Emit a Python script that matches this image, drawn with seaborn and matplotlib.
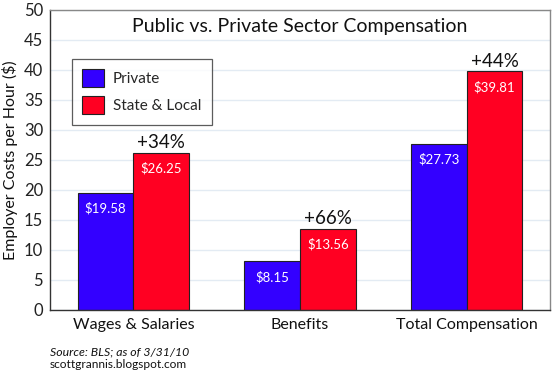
import pandas as pd
import seaborn as sns
import matplotlib.pyplot as plt
from matplotlib.patches import Patch


categories = ["Wages & Salaries", "Benefits", "Total Compensation"]
private = [19.58, 8.15, 27.73]
state_local = [26.25, 13.56, 39.81]
pct_diff = ["+34%", "+66%", "+44%"]
sectors = ["Private", "State & Local"]

df = pd.DataFrame({
    "category": categories * 2,
    "sector": [sectors[0]] * 3 + [sectors[1]] * 3,
    "cost": private + state_local,
})

sns.set_style("white")
plt.rcParams['font.family'] = ['Lato', 'DejaVu Sans']

palette = {"Private": "#3300ff", "State & Local": "#ff0022"}

fig = plt.figure(figsize=(5.52, 3.79), dpi=100)
ax = fig.add_axes([50 / 552, 1 - 310 / 379, 500 / 552, 300 / 379])

sns.barplot(data=df, x="category", y="cost", hue="sector", palette=palette,
            width=0.667, gap=0, saturation=1, edgecolor="#222222", linewidth=0.8,
            ax=ax, legend=False)

ax.set_xlim(-0.5, 2.5)
ax.set_ylim(0, 50)
ax.set_yticks(range(0, 51, 5))
ax.set_yticks(range(0, 51, 1), minor=True)
ax.set_xticks([0.5, 1.5], minor=True)
ax.grid(axis="y", which="major", color="#e3ebf3", linewidth=1)
ax.set_axisbelow(True)

ax.tick_params(axis="y", which="major", direction="out", length=4, width=0.8,
               labelsize=12, pad=1, colors="#222222")
ax.tick_params(axis="y", which="minor", direction="in", length=2.5, width=0.6,
               color="#666666")
ax.tick_params(axis="x", which="major", length=0, labelsize=11.5, pad=6,
               colors="#111111")
ax.tick_params(axis="x", which="minor", direction="out", length=3, width=0.8,
               color="#555555")

for side in ["left", "bottom"]:
    ax.spines[side].set_color("#333333")
    ax.spines[side].set_linewidth(1.0)
for side in ["top", "right"]:
    ax.spines[side].set_color("#888888")
    ax.spines[side].set_linewidth(1.0)

ax.set_xlabel("")
ax.set_ylabel("Employer Costs per Hour ($)", fontsize=11.5, labelpad=4,
              color="#111111")

ax.set_title("Public vs. Private Sector Compensation", fontsize=14,
             y=0.9, color="#111111")

# dollar labels inside the bars, percent gaps above the red bars
for cont, vals in zip(ax.containers, [private, state_local]):
    ax.bar_label(cont, labels=[f"${v:.2f}" for v in vals], padding=-16,
                 color="white", fontsize=9.5)
ax.bar_label(ax.containers[1], labels=pct_diff, padding=1, fontsize=13.5,
             color="#111111")

handles = [Patch(facecolor=palette[s], edgecolor="#222222", linewidth=0.8)
           for s in sectors]
leg = ax.legend(handles, sectors, loc="upper left",
                bbox_to_anchor=(0.028, 0.863), fontsize=11, frameon=True,
                fancybox=False, edgecolor="#333333", handlelength=1.4,
                handleheight=1.4, borderpad=0.7, labelspacing=0.6,
                handletextpad=0.6)
leg.get_frame().set_linewidth(0.9)

fig.text(50 / 552, 1 - 352 / 379, "Source: BLS; as of 3/31/10", fontsize=8.8,
         style="italic", color="#111111", va="center")
fig.text(50 / 552, 1 - 364 / 379, "scottgrannis.blogspot.com", fontsize=8.6,
         color="#111111", va="center")

fig.savefig("out.png", dpi=100)
